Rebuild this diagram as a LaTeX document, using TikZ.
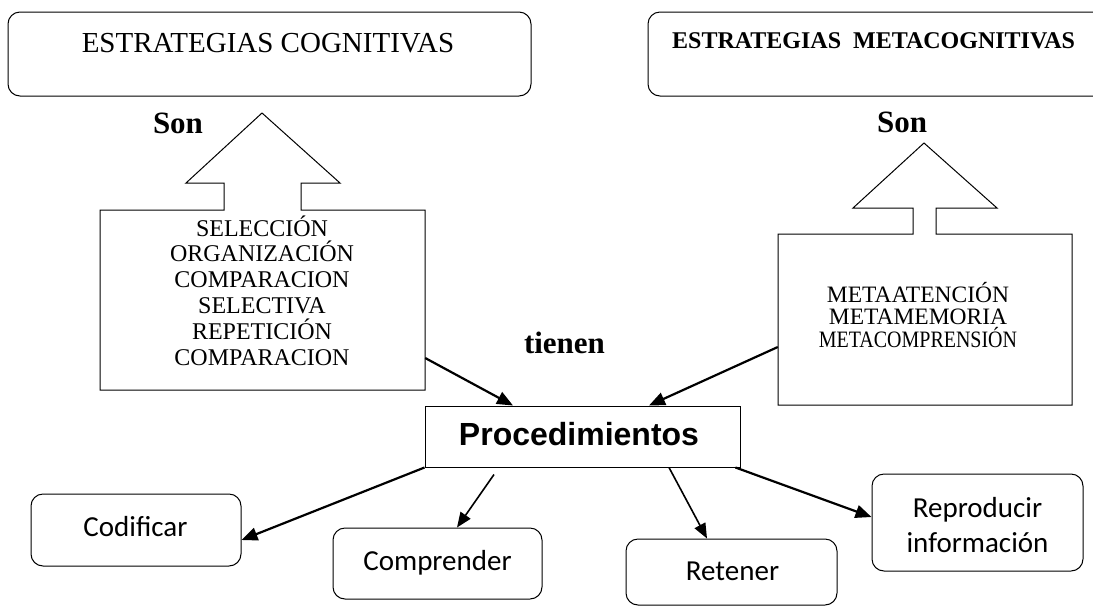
\documentclass[tikz,border=0pt]{standalone}
\usepackage{fontspec}
\usepackage{graphicx}
\setmainfont{Liberation Serif}
\newfontfamily\calfont{Carlito}
\newfontfamily\arialfont{Liberation Sans}
\usetikzlibrary{arrows.meta,calc}
\newcommand\mystack[2]{\vtop{\baselineskip=#1\lineskiplimit=-100pt\lineskip=0pt\halign{\hfil##\hfil\cr #2\crcr}}}
\begin{document}
\begin{tikzpicture}[x=1pt,y=-1pt,
  roundbox/.style={draw, rounded corners=12pt, line width=1pt, inner sep=0pt},
  plainbox/.style={draw, line width=1pt, inner sep=0pt},
  ghost/.style={inner sep=0pt},
  txt/.style={anchor=base, inner sep=0pt},
  conn/.style={line width=2.2pt, -{Triangle[length=16pt,width=13pt]}},
  thinconn/.style={line width=1.6pt, -{Triangle[length=15pt,width=12pt]}},
  calt/.style={font=\calfont\fontsize{29}{35}\selectfont}
]
\clip (0,0) rectangle (1093,606);
\fill[white] (0,0) rectangle (1093,606);

% top boxes
\node[roundbox, minimum width=523pt, minimum height=84pt] (cog) at (269.5,54) {};
\node[txt, font=\fontsize{29}{35}\selectfont] (cogt) at (268,52) {ESTRATEGIAS COGNITIVAS};
\node[roundbox, minimum width=472pt, minimum height=84pt] (meta) at (884,54) {};
\node[txt, anchor=base west, font=\bfseries\fontsize{24}{29}\selectfont] (metat) at (672,48) {ESTRATEGIAS\ \ METACOGNITIVAS};

% Son labels
\node[txt, font=\bfseries\fontsize{31}{36}\selectfont] (son1) at (178,133) {Son};
\node[txt, font=\bfseries\fontsize{31}{36}\selectfont] (son2) at (902,132) {Son};
\node[txt, font=\bfseries\fontsize{31}{36}\selectfont] (tienen) at (564.5,353) {tienen};

% up-arrow callout (left)
\node[ghost, minimum width=325pt, minimum height=180pt] (cogbox) at (262.5,300) {};
\draw[line width=1pt] (100,390) -- (100,210) -- (224,210) -- (224,183) -- (186,183) -- (262,113)
  -- (340,183) -- (301,183) -- (301,210) -- (425,210) -- (425,390) -- cycle;
\node[txt, font=\fontsize{24}{25.8}\selectfont] (cogl) at (262,236)
  {\mystack{25.8pt}{SELECCIÓN\cr ORGANIZACIÓN\cr COMPARACION\cr SELECTIVA\cr REPETICIÓN\cr COMPARACION}};

% up-arrow callout (right)
\node[ghost, minimum width=294pt, minimum height=171pt] (metabox) at (925,319.5) {};
\draw[line width=1pt] (778,405) -- (778,234) -- (913,234) -- (913,208) -- (853,208) -- (924,143)
  -- (997,208) -- (936,208) -- (936,234) -- (1072,234) -- (1072,405) -- cycle;
\node[txt, font=\fontsize{23.5}{22.5}\selectfont] (metal) at (918,302)
  {\mystack{22.5pt}{METAATENCIÓN\cr METAMEMORIA\cr \scalebox{0.85}[1]{METACOMPRENSIÓN}}};

% Procedimientos
\node[plainbox, minimum width=315pt, minimum height=61pt] (proc) at (582.5,436.5) {};
\node[txt, font=\arialfont\bfseries\fontsize{32}{38}\selectfont] (proct) at (579,445) {Procedimientos};

% bottom boxes
\node[roundbox, minimum width=210pt, minimum height=72pt] (cod) at (136,530) {};
\node[txt, calt] (codt) at (135.5,536) {Codificar};
\node[roundbox, minimum width=209pt, minimum height=71pt] (comp) at (437.5,563.5) {};
\node[txt, calt] (compt) at (437.5,570) {Comprender};
\node[roundbox, minimum width=211pt, minimum height=66pt] (ret) at (731.5,572) {};
\node[txt, calt] (rett) at (732.5,580) {Retener};
\node[roundbox, minimum width=211pt, minimum height=97pt] (rep) at (977.5,522.5) {};
\node[txt, calt] (rept) at (977.5,517) {\mystack{35pt}{Reproducir\cr información}};

% connectors
\draw[conn] ([yshift=-58pt]cogbox.east) -- ([xshift=-69.5pt]proc.north);
\draw[conn] ([yshift=-27.5pt]metabox.west) -- ([xshift=66.5pt]proc.north);
\draw[conn] (proc.south west) -- ([yshift=-10pt]cod.east);
\draw[thinconn] ([xshift=-88.5pt,yshift=-7pt]proc.south) -- ([xshift=19.5pt]comp.north);
\draw[thinconn] ([xshift=86.5pt]proc.south) -- ([xshift=-24.5pt]ret.north);
\draw[conn] ([xshift=-5pt]proc.south east) -- ([yshift=5.5pt]rep.west);
\end{tikzpicture}
\end{document}
